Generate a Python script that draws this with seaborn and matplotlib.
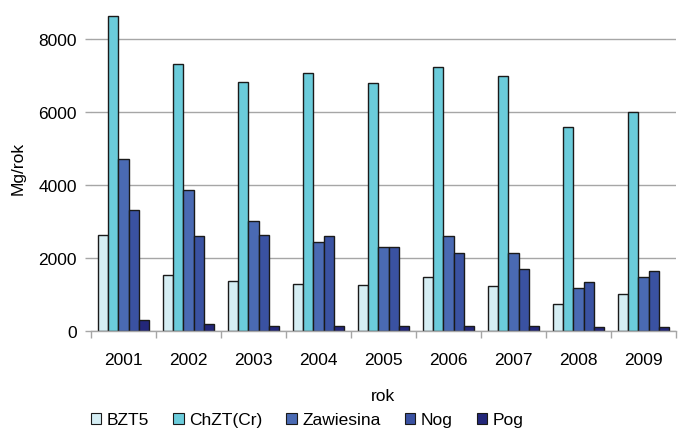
import matplotlib
matplotlib.use("Agg")
import matplotlib.pyplot as plt
from matplotlib.patches import Patch
import seaborn as sns
import pandas as pd

years = ["2001", "2002", "2003", "2004", "2005", "2006", "2007", "2008", "2009"]
series = ["BZT5", "ChZT(Cr)", "Zawiesina", "Nog", "Pog"]
bzt5 = [2630, 1530, 1370, 1300, 1260, 1490, 1225, 750, 1005]
chzt = [8640, 7320, 6840, 7070, 6800, 7250, 6990, 5585, 6015]
zawiesina = [4720, 3870, 3010, 2450, 2300, 2600, 2150, 1190, 1490]
nog = [3310, 2600, 2630, 2600, 2300, 2150, 1710, 1335, 1635]
pog = [290, 180, 150, 150, 150, 150, 150, 110, 110]
colors = ["#D5EEF4", "#6BCCDB", "#4A6AB3", "#3A52A2", "#23277A"]

values = [bzt5, chzt, zawiesina, nog, pog]
rows = []
for name, vals in zip(series, values):
    for y, v in zip(years, vals):
        rows.append({"rok": y, "Mg/rok": v, "seria": name})
df = pd.DataFrame(rows)

sns.set_theme(style="white")
plt.rcParams["font.family"] = ["Liberation Sans", "DejaVu Sans"]
plt.rcParams["text.color"] = "black"
plt.rcParams["axes.labelcolor"] = "black"
plt.rcParams["xtick.labelcolor"] = "black"
plt.rcParams["ytick.labelcolor"] = "black"
FS = 12.5

fig = plt.figure(figsize=(6.81, 4.35), dpi=100)
ax = fig.add_axes([91 / 681, 1 - 332 / 435, 585 / 681, 328 / 435])

sns.barplot(data=df, x="rok", y="Mg/rok", hue="seria", order=years,
            hue_order=series, palette=colors, width=0.78, gap=0,
            edgecolor="#1a1a1a", linewidth=1.0, ax=ax, legend=False,
            saturation=1)

ax.set_ylim(0, 9000)
ax.set_xlim(-0.5, len(years) - 0.5)
ax.set_yticks([0, 2000, 4000, 6000, 8000])
ax.yaxis.grid(True, color="#A6A6A6", linewidth=1.0)
ax.set_axisbelow(True)

for s in ["top", "right", "left"]:
    ax.spines[s].set_visible(False)
ax.spines["bottom"].set_color("#A6A6A6")
ax.spines["bottom"].set_linewidth(1.0)

ax.tick_params(axis="y", length=4, color="#A6A6A6", width=1.0,
               labelsize=FS, pad=6, left=True, labelcolor="black")
ax.tick_params(axis="x", which="major", length=0, labelsize=FS, pad=15,
               labelcolor="black")
ax.set_xticks([i - 0.5 for i in range(len(years) + 1)], minor=True)
ax.tick_params(axis="x", which="minor", length=5, color="#A6A6A6",
               width=1.0, bottom=True)

ax.set_xlabel("rok", fontsize=FS, labelpad=15, color="black")
ax.set_ylabel("Mg/rok", fontsize=FS, labelpad=9, color="black")

handles = [Patch(facecolor=c, edgecolor="#1a1a1a", linewidth=0.8)
           for c in colors]
fig.legend(handles, series, loc="center left",
           bbox_to_anchor=(84 / 681, 1 - 421 / 435), ncol=5, frameon=False,
           fontsize=FS, handlelength=0.6, handleheight=0.6,
           handletextpad=0.3, columnspacing=1.4, borderaxespad=0,
           labelcolor="black")

fig.savefig("out.png", dpi=100)
